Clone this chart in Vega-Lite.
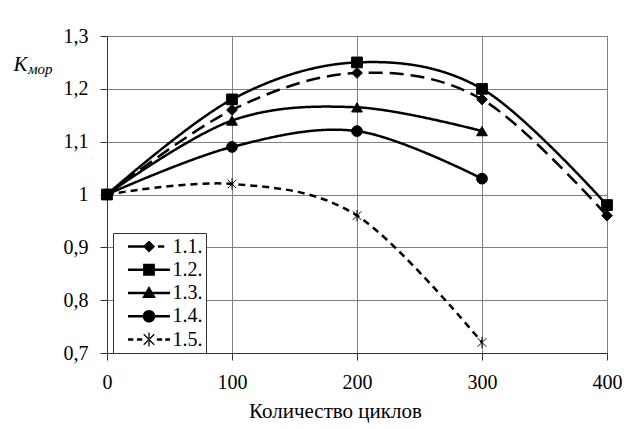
{
  "$schema": "https://vega.github.io/schema/vega-lite/v6.json",
  "width": 500,
  "height": 317,
  "autosize": {"type": "none"},
  "padding": {"left": 107, "top": 36, "right": 17, "bottom": 76},
  "background": "white",
  "config": {
    "font": "Liberation Serif",
    "view": {"stroke": "#333333", "strokeWidth": 1},
    "axis": {
      "grid": true,
      "gridColor": "#808080",
      "gridWidth": 1,
      "domainColor": "#333333",
      "tickColor": "#333333",
      "tickSize": 7,
      "labelFont": "Liberation Serif",
      "labelFontSize": 20,
      "labelColor": "black",
      "titleFont": "Liberation Serif",
      "titleColor": "black",
      "titleFontWeight": "normal"
    }
  },
  "title": {
    "text": "мор",
    "anchor": "start",
    "frame": "group",
    "orient": "top",
    "offset": 0,
    "dx": -79,
    "dy": 63,
    "baseline": "alphabetic",
    "font": "Liberation Serif",
    "fontSize": 15,
    "fontStyle": "italic",
    "fontWeight": "normal",
    "color": "black"
  },
  "data": {
    "values": [
      {"series": "1.1.", "cycles": 0, "k": 1.0},
      {"series": "1.1.", "cycles": 100, "k": 1.16},
      {"series": "1.1.", "cycles": 200, "k": 1.23},
      {"series": "1.1.", "cycles": 300, "k": 1.18},
      {"series": "1.1.", "cycles": 400, "k": 0.96},
      {"series": "1.2.", "cycles": 0, "k": 1.0},
      {"series": "1.2.", "cycles": 100, "k": 1.18},
      {"series": "1.2.", "cycles": 200, "k": 1.25},
      {"series": "1.2.", "cycles": 300, "k": 1.2},
      {"series": "1.2.", "cycles": 400, "k": 0.98},
      {"series": "1.3.", "cycles": 0, "k": 1.0},
      {"series": "1.3.", "cycles": 100, "k": 1.14},
      {"series": "1.3.", "cycles": 200, "k": 1.165},
      {"series": "1.3.", "cycles": 300, "k": 1.12},
      {"series": "1.4.", "cycles": 0, "k": 1.0},
      {"series": "1.4.", "cycles": 100, "k": 1.09},
      {"series": "1.4.", "cycles": 200, "k": 1.12},
      {"series": "1.4.", "cycles": 300, "k": 1.03},
      {"series": "1.5.", "cycles": 0, "k": 1.0},
      {"series": "1.5.", "cycles": 100, "k": 1.02},
      {"series": "1.5.", "cycles": 200, "k": 0.96},
      {"series": "1.5.", "cycles": 300, "k": 0.72}
    ]
  },
  "encoding": {
    "x": {
      "field": "cycles",
      "type": "quantitative",
      "scale": {"domain": [0, 400], "nice": false},
      "axis": {
        "values": [0, 100, 200, 300, 400],
        "title": "Количество циклов",
        "titleFontSize": 21,
        "titleX": 228,
        "titleY": 64,
        "titleAlign": "center",
        "titleBaseline": "alphabetic",
        "labelPadding": 12,
        "labelFlush": false
      }
    },
    "y": {
      "field": "k",
      "type": "quantitative",
      "scale": {"domain": [0.7, 1.3], "nice": false, "zero": false},
      "axis": {
        "values": [0.7, 0.8, 0.9, 1.0, 1.1, 1.2, 1.3],
        "labelExpr": "replace(format(datum.value, '~g'), '.', ',')",
        "labelPadding": 12,
        "labelFlush": false,
        "title": "K",
        "titleAngle": 0,
        "titleAlign": "left",
        "titleBaseline": "alphabetic",
        "titleX": -94,
        "titleY": 34,
        "titleFontSize": 21,
        "titleFontStyle": "italic"
      }
    }
  },
  "layer": [
    {
      "mark": {"type": "line", "interpolate": "cardinal", "strokeWidth": 2.5, "color": "black"},
      "encoding": {
        "detail": {"field": "series"},
        "strokeDash": {
          "field": "series",
          "type": "nominal",
          "scale": {
            "domain": ["1.1.", "1.2.", "1.3.", "1.4.", "1.5."],
            "range": [[14, 7], [1, 0], [1, 0], [1, 0], [7, 5]]
          },
          "legend": {
            "orient": "none",
            "legendX": 6,
            "legendY": 197,
            "title": null,
            "direction": "vertical",
            "strokeColor": "#333333",
            "fillColor": "white",
            "padding": 3,
            "symbolSize": 441,
            "rowPadding": 2.25,
            "symbolOffset": 22.5,
            "labelOffset": 13,
            "labelFont": "Liberation Serif",
            "labelFontSize": 20,
            "labelColor": "black",
            "labelExpr": "datum.label + '\u00a0\u00a0\u00a0\u00a0'",
            "encoding": {
              "symbols": {
                "shape": {"value": {"expr": "datum.value == '1.1.' ? 'M-2,-0.12H-0.3V0.12H-2Z M0.85,-0.12H1.45V0.12H0.85Z M0,-0.58L0.58,0L0,0.58L-0.58,0Z' : datum.value == '1.2.' ? 'M-2,-0.12H2V0.12H-2Z M-0.56,-0.56H0.56V0.56H-0.56Z' : datum.value == '1.3.' ? 'M-2,-0.12H2V0.12H-2Z M0,-0.66L0.66,0.48L-0.66,0.48Z' : datum.value == '1.4.' ? 'M-2,-0.12H2V0.12H-2Z M0.6,0A0.6,0.6 0 1,1 -0.6,0A0.6,0.6 0 1,1 0.6,0Z' : 'M-2,-0.12H-1.5V0.12H-2Z M-1.15,-0.12H-0.65V0.12H-1.15Z M0.75,-0.12H1.25V0.12H0.75Z M1.55,-0.12H2V0.12H1.55Z M-0.458,-0.542L0.542,0.458L0.458,0.542L-0.542,-0.458Z M-0.458,0.542L0.542,-0.458L0.458,-0.542L-0.542,0.458Z M-0.06,-0.66H0.06V0.66H-0.06Z'"}},
                "fill": {"value": "black"},
                "stroke": {"value": "black"},
                "strokeWidth": {"value": 0},
                "opacity": {"value": 1}
              }
            }
          }
        }
      }
    },
    {
      "mark": {"type": "point", "filled": true, "fill": "black", "stroke": "black", "strokeWidth": 1, "size": 115, "opacity": 1},
      "encoding": {
        "shape": {
          "field": "series",
          "type": "nominal",
          "scale": {
            "range": ["diamond", "square", "triangle-up", "circle", "M-0.8,-0.8L0.8,0.8M-0.8,0.8L0.8,-0.8M0,-1.05L0,1.05"]
          },
          "legend": null
        }
      }
    }
  ]
}
